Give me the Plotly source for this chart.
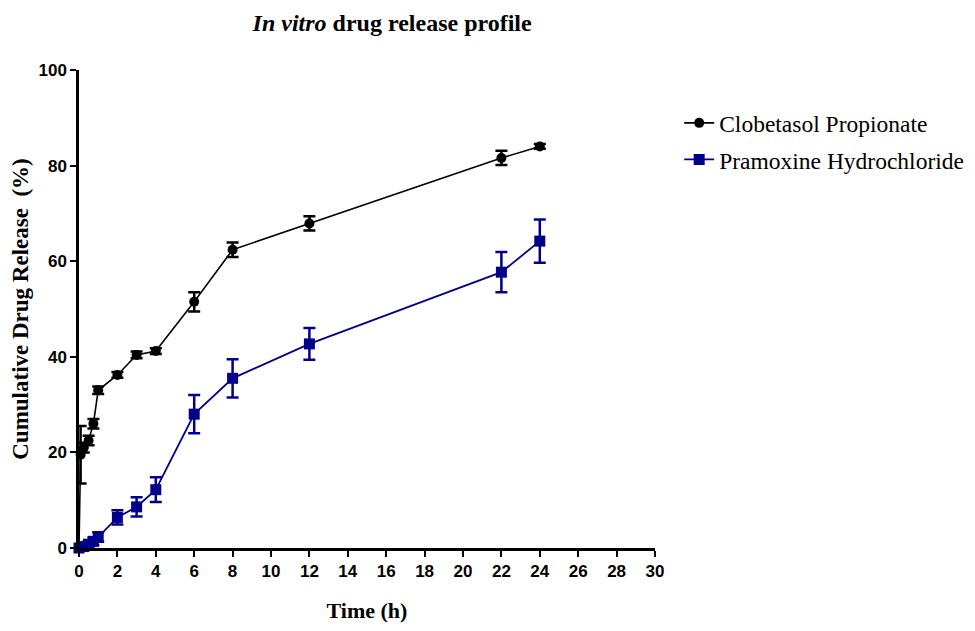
import plotly.graph_objects as go

time_clob = [0, 0.083, 0.25, 0.5, 0.75, 1, 2, 3, 4, 6, 8, 12, 22, 24]
clob = [0, 19.5, 21.0, 22.5, 26.0, 33.0, 36.2, 40.4, 41.2, 51.5, 62.4, 67.9, 81.6, 84.0]
clob_err = [0, 6.0, 1.0, 1.0, 1.0, 0.8, 0.6, 0.7, 0.6, 2.0, 1.5, 1.5, 1.5, 0.5]

time_pram = [0, 0.25, 0.5, 0.75, 1, 2, 3, 4, 6, 8, 12, 22, 24]
pram = [0, 0.3, 0.8, 1.4, 2.3, 6.4, 8.6, 12.2, 28.0, 35.5, 42.7, 57.7, 64.2]
pram_err = [0, 0.5, 0.6, 0.8, 1.0, 1.5, 2.0, 2.6, 4.0, 4.0, 3.3, 4.2, 4.5]

x_ticks = list(range(0, 31, 2))
y_ticks = [0, 20, 40, 60, 80, 100]

fig = go.Figure()
fig.add_trace(go.Scatter(
    x=time_clob, y=clob, name="Clobetasol Propionate", legendgroup="a",
    mode="lines+markers",
    line=dict(color="black", width=1.6),
    marker=dict(symbol="circle", size=10, color="black"),
    error_y=dict(type="data", array=clob_err, color="black", thickness=2.5, width=6),
    cliponaxis=False,
))
fig.add_trace(go.Scatter(
    x=time_pram, y=pram, name="Pramoxine Hydrochloride", legendgroup="b",
    mode="lines+markers",
    line=dict(color="#00008B", width=1.8),
    marker=dict(symbol="square", size=11, color="#00008B"),
    error_y=dict(type="data", array=pram_err, color="#00008B", thickness=2.5, width=6),
    cliponaxis=False,
))

fig.update_layout(
    width=975, height=631,
    margin=dict(l=71, r=328, t=62, b=91, autoexpand=False),
    paper_bgcolor="white", plot_bgcolor="white",
    title=dict(
        text="<b><i>In vitro</i> drug release profile</b>",
        x=0.394, xanchor="center", y=0.99, yanchor="top",
        font=dict(family="Liberation Serif", size=24, color="black"),
    ),
    legend=dict(
        x=1.042, y=0.935, xanchor="left", yanchor="top",
        font=dict(family="Liberation Serif", size=23.5, color="black"),
        bgcolor="rgba(0,0,0,0)", tracegroupgap=3, itemwidth=30,
    ),
    showlegend=True,
)
fig.update_xaxes(
    range=[0, 30], tickvals=x_ticks, ticktext=[str(v) for v in x_ticks],
    showgrid=False, zeroline=False, automargin=False,
    showline=True, linecolor="black", linewidth=2.5,
    ticks="outside", ticklen=6, tickwidth=2, tickcolor="black",
    tickfont=dict(family="Liberation Sans", size=17, color="black", weight="bold"),
    title=dict(text="<b>Time (h)</b>", standoff=23,
               font=dict(family="Liberation Serif", size=22, color="black")),
)
fig.update_yaxes(
    range=[0, 100], tickvals=y_ticks, ticktext=[str(v) for v in y_ticks],
    showgrid=False, zeroline=False, automargin=False,
    showline=True, linecolor="black", linewidth=2.5,
    ticks="outside", ticklen=6, tickwidth=2, tickcolor="black",
    tickfont=dict(family="Liberation Sans", size=17, color="black", weight="bold"),
    title=dict(text="<b>Cumulative Drug Release  (%)</b>", standoff=8,
               font=dict(family="Liberation Serif", size=23, color="black")),
)

fig.write_html("out.html")
